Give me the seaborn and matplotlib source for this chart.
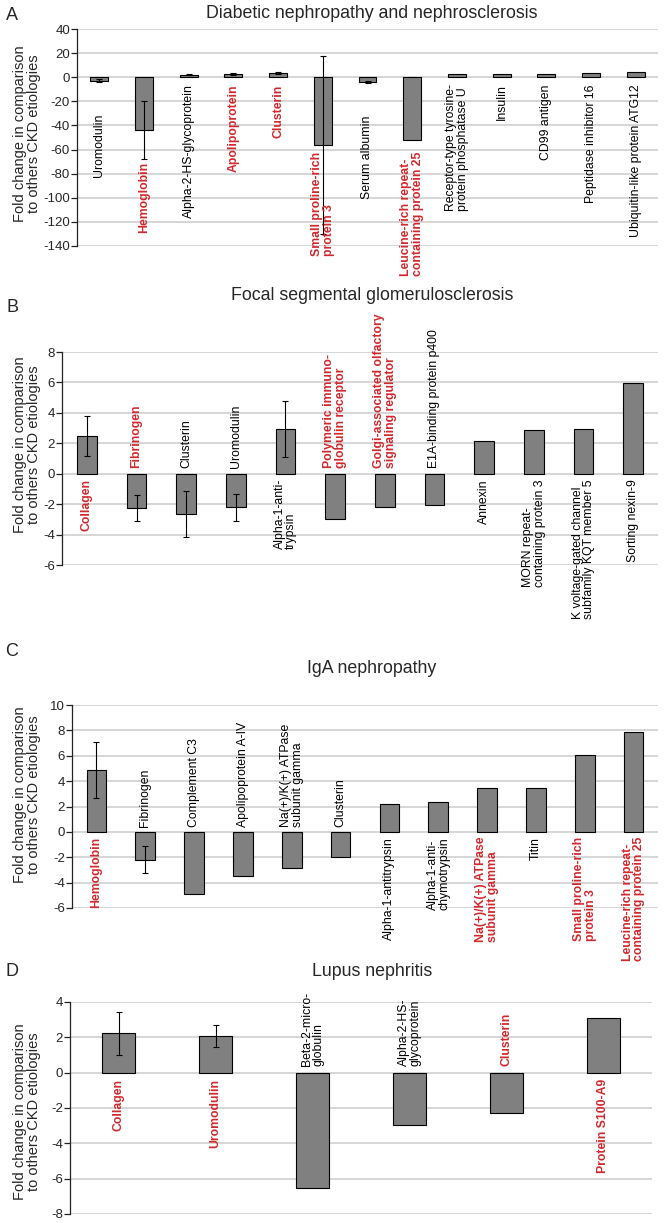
import matplotlib
matplotlib.use("Agg")
import matplotlib.pyplot as plt
import seaborn as sns

sns.set_theme(style="white")
plt.rcParams["font.family"] = ["Liberation Sans", "DejaVu Sans"]

# A - Diabetic nephropathy and nephrosclerosis
a_proteins = ["Uromodulin", "Hemoglobin", "Alpha-2-HS-glycoprotein", "Apolipoprotein",
              "Clusterin", "Small proline-rich\nprotein 3", "Serum albumin",
              "Leucine-rich repeat-\ncontaining protein 25",
              "Receptor-type tyrosine-\nprotein phosphatase U", "Insulin", "CD99 antigen",
              "Peptidase inhibitor 16", "Ubiquitin-like protein ATG12"]
a_fold = [-3.0, -44, 2.0, 2.5, 3.5, -56, -3.8, -52, 2.3, 2.3, 2.3, 3.5, 4.2]
a_err = [1.2, 24, 0.3, 1.0, 1.0, 74, 0.7, 0, 0, 0, 0, 0, 0]
a_red = [0, 1, 0, 1, 1, 1, 0, 1, 0, 0, 0, 0, 0]

# B - Focal segmental glomerulosclerosis
b_proteins = ["Collagen", "Fibrinogen", "Clusterin", "Uromodulin", "Alpha-1-anti-\ntrypsin",
              "Polymeric immuno-\nglobulin receptor",
              "Golgi-associated olfactory\nsignaling regulator", "E1A-binding protein p400",
              "Annexin", "MORN repeat-\ncontaining protein 3",
              "K voltage-gated channel\nsubfamily KQT member 5", "Sorting nexin-9"]
b_fold = [2.5, -2.26, -2.64, -2.22, 2.95, -3.0, -2.2, -2.07, 2.13, 2.86, 2.95, 5.98]
b_err = [1.32, 0.86, 1.5, 0.88, 1.82, 0, 0, 0, 0, 0, 0, 0]
b_red = [1, 1, 0, 0, 0, 1, 1, 0, 0, 0, 0, 0]

# C - IgA nephropathy
c_proteins = ["Hemoglobin", "Fibrinogen", "Complement C3", "Apolipoprotein A-IV",
              "Na(+)/K(+) ATPase\nsubunit gamma", "Clusterin", "Alpha-1-antitrypsin",
              "Alpha-1-anti-\nchymotrypsin", "Na(+)/K(+) ATPase\nsubunit gamma", "Titin",
              "Small proline-rich\nprotein 3", "Leucine-rich repeat-\ncontaining protein 25"]
c_fold = [4.9, -2.18, -4.88, -3.5, -2.88, -1.98, 2.18, 2.38, 3.48, 3.48, 6.08, 7.85]
c_err = [2.2, 1.1, 0, 0, 0, 0, 0, 0, 0, 0, 0, 0]
c_red = [1, 0, 0, 0, 0, 0, 0, 0, 1, 0, 1, 1]

# D - Lupus nephritis
d_proteins = ["Collagen", "Uromodulin", "Beta-2-micro-\nglobulin", "Alpha-2-HS-\nglycoprotein",
              "Clusterin", "Protein S100-A9"]
d_fold = [2.23, 2.08, -6.5, -2.95, -2.29, 3.12]
d_err = [1.22, 0.63, 0, 0, 0, 0]
d_red = [1, 1, 0, 0, 1, 1]

W, H = 664, 1223
RED = "#d2282d"


def px_rect(left, top, right, bottom):
    return [left / W, 1 - bottom / H, (right - left) / W, (bottom - top) / H]


def panel(fig, rect, names, fold, err, red, ticks, width, pad, label_top=None):
    ax = fig.add_axes(rect)
    n = len(names)
    sns.barplot(x=list(range(n)), y=fold, color="#808080", saturation=1,
                edgecolor="black", linewidth=0.8, width=width, errorbar=None, ax=ax)
    xs = [i for i in range(n) if err[i] > 0]
    ax.errorbar(xs, [fold[i] for i in xs], yerr=[err[i] for i in xs], fmt="none",
                ecolor="black", elinewidth=0.8, capsize=2.5, capthick=0.8, zorder=3)
    ax.set_ylim(ticks[0], ticks[-1])
    ax.set_yticks(ticks)
    ax.set_yticklabels([str(t) for t in ticks], fontsize=9.5)
    ax.set_xlim(-0.5, n - 0.5)
    ax.set_xticks([])
    ax.set_xlabel("")
    ax.yaxis.grid(True, color="#d0d0d0", linewidth=1.2)
    ax.set_axisbelow(True)
    for s in ["top", "right", "bottom"]:
        ax.spines[s].set_visible(False)
    ax.spines["left"].set_color("#222222")
    ax.spines["left"].set_linewidth(0.9)
    ax.tick_params(axis="y", left=True, length=4, width=0.9, color="#222222", pad=1)
    for i, name in enumerate(names):
        kw = dict(rotation=90, ha="center", multialignment="left", fontsize=8.8,
                  linespacing=0.95, color=RED if red[i] else "black",
                  fontweight="bold" if red[i] else "normal")
        if label_top is not None:
            ax.text(i, label_top.get(i, -pad), name, va="top", **kw)
        elif fold[i] > 0:
            ax.text(i, -pad, name, va="top", **kw)
        else:
            ax.text(i, pad, name, va="bottom", **kw)
    return ax


fig = plt.figure(figsize=(W / 100, H / 100), dpi=100)

ylab = "Fold change in comparison\nto others CKD etiologies"

panel(fig, px_rect(77, 29, 658, 246), a_proteins, a_fold, a_err, a_red,
      list(range(-140, 41, 20)), 0.4, 6,
      label_top={0: -30, 1: -70, 5: -62, 6: -32, 7: -62})
panel(fig, px_rect(62, 352, 658, 565), b_proteins, b_fold, b_err, b_red,
      list(range(-6, 9, 2)), 0.4, 0.35)
panel(fig, px_rect(72, 705, 658, 908), c_proteins, c_fold, c_err, c_red,
      list(range(-6, 11, 2)), 0.4, 0.4)
panel(fig, px_rect(70, 1002, 652, 1214), d_proteins, d_fold, d_err, d_red,
      list(range(-8, 5, 2)), 0.35, 0.35)

titles = ["Diabetic nephropathy and nephrosclerosis", "Focal segmental glomerulosclerosis",
          "IgA nephropathy", "Lupus nephritis"]
title_y = [13, 295, 668, 972]
letters = ["A", "B", "C", "D"]
letter_y = [15, 308, 652, 972]
ylab_y = [134, 445, 795, 1112]
for t, ty, l, ly, yy in zip(titles, title_y, letters, letter_y, ylab_y):
    fig.text(372 / W, 1 - ty / H, t, ha="center", va="center", fontsize=12.8)
    fig.text(12 / W, 1 - ly / H, l, ha="center", va="center", fontsize=13)
    fig.text(27 / W, 1 - yy / H, ylab, ha="center", va="center", rotation=90,
             fontsize=10.5, linespacing=1.0)

fig.savefig("out.png", dpi=100)
